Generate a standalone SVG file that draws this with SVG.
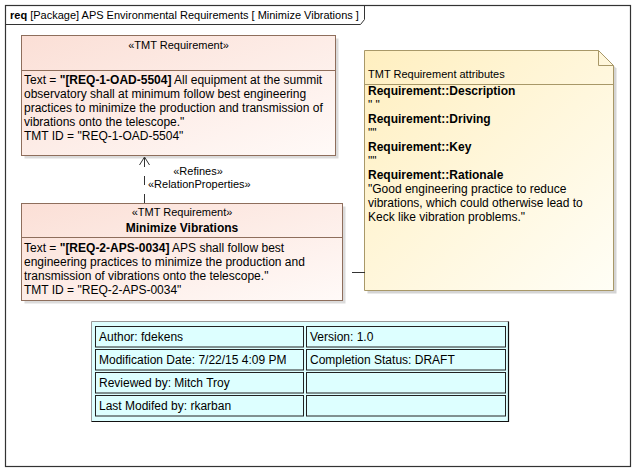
<svg xmlns="http://www.w3.org/2000/svg" width="634" height="473" viewBox="0 0 634 473">
<defs>
<linearGradient id="reqGrad" x1="0" y1="0" x2="1" y2="1">
<stop offset="0" stop-color="#FBDFD6"/>
<stop offset="1" stop-color="#FFFAF8"/>
</linearGradient>
<linearGradient id="noteGrad" x1="0" y1="0" x2="1" y2="1">
<stop offset="0" stop-color="#FFEFC0"/>
<stop offset="1" stop-color="#FFFEF6"/>
</linearGradient>
</defs>
<style>
text { font-family: "Liberation Sans", Arial, sans-serif; fill: #000; }
.t12 { font-size: 12px; }
.t11 { font-size: 11px; }
.b { font-weight: bold; }
.req { fill: url(#reqGrad); stroke: #8E6E5C; stroke-width: 1; }
.shadow { fill: #B8B8B8; }
.sep { stroke: #8E6E5C; stroke-width: 1; }
.note { fill: url(#noteGrad); stroke: #A89868; stroke-width: 1; }
.cell { fill: #DDFFFF; stroke: #222; stroke-width: 1; }
.conn { fill: none; stroke: #333; stroke-width: 1; }
</style>

<!-- Frame -->
<g id="frame">
<rect x="5.5" y="5.5" width="625" height="461" fill="#fff" stroke="#333" stroke-width="1.2"/>
<path d="M5.5 24.5 H360.5 L364.5 19.5 V5.5" fill="none" stroke="#333" stroke-width="1"/>
<text x="10" y="19" class="t11"><tspan class="b">req</tspan> [Package] APS Environmental Requirements [ Minimize Vibrations ]</text>
</g>

<!-- Top requirement -->
<g id="req-oad-5504">
<rect x="24.5" y="38.5" width="314" height="120" class="shadow" opacity="0.5"/>
<rect x="21.5" y="35.5" width="314" height="120" class="req"/>
<line x1="21.5" y1="70.5" x2="335.5" y2="70.5" class="sep"/>
<text x="178.5" y="49" class="t11" text-anchor="middle">«TMT Requirement»</text>
<text x="24" y="84" class="t12">Text = <tspan class="b">"[REQ-1-OAD-5504]</tspan> All equipment at the summit</text>
<text x="24" y="98" class="t12">observatory shall at minimum follow best engineering</text>
<text x="24" y="112" class="t12">practices to minimize the production and transmission of</text>
<text x="24" y="126" class="t12">vibrations onto the telescope."</text>
<text x="24" y="140" class="t12">TMT ID = "REQ-1-OAD-5504"</text>
</g>

<!-- Bottom requirement -->
<g id="req-aps-0034">
<rect x="24.5" y="206.5" width="321" height="97" class="shadow" opacity="0.5"/>
<rect x="21.5" y="203.5" width="321" height="97" class="req"/>
<line x1="21.5" y1="237.5" x2="342.5" y2="237.5" class="sep"/>
<text x="182" y="216" class="t11" text-anchor="middle">«TMT Requirement»</text>
<text x="182" y="232" class="t12 b" text-anchor="middle">Minimize Vibrations</text>
<text x="24" y="252" class="t12">Text = <tspan class="b">"[REQ-2-APS-0034]</tspan> APS shall follow best</text>
<text x="24" y="266" class="t12">engineering practices to minimize the production and</text>
<text x="24" y="280" class="t12">transmission of vibrations onto the telescope."</text>
<text x="24" y="294" class="t12">TMT ID = "REQ-2-APS-0034"</text>
</g>

<!-- Note -->
<g id="note-attributes">
<path d="M367.5 53.5 H601.5 L616.5 68.5 V293.5 H367.5 Z" class="shadow" opacity="0.6"/>
<path d="M364.5 50.5 H598.5 L613.5 65.5 V290.5 H364.5 Z" class="note"/>
<path d="M598.5 50.5 V65.5 H613.5" fill="none" stroke="#A89868" stroke-width="1"/>
<line x1="364.5" y1="84.5" x2="613.5" y2="84.5" stroke="#A89868" stroke-width="1"/>
<text x="368" y="78" class="t11">TMT Requirement attributes</text>
<text x="368" y="94.5" class="t12 b">Requirement::Description</text>
<text x="368" y="108.5" class="t12">" "</text>
<text x="368" y="122.5" class="t12 b">Requirement::Driving</text>
<text x="368" y="136.5" class="t12">""</text>
<text x="368" y="150.5" class="t12 b">Requirement::Key</text>
<text x="368" y="164.5" class="t12">""</text>
<text x="368" y="178.5" class="t12 b">Requirement::Rationale</text>
<text x="368" y="192.5" class="t12">"Good engineering practice to reduce</text>
<text x="368" y="206.5" class="t12">vibrations, which could otherwise lead to</text>
<text x="368" y="220.5" class="t12">Keck like vibration problems."</text>
</g>

<!-- Connectors -->
<g id="connectors">
<line x1="144.5" y1="203" x2="144.5" y2="157" class="conn" stroke-dasharray="9,9"/>
<path d="M139.5 165 L144.5 157 L149.5 165" class="conn"/>
<text x="198" y="175" class="t11" text-anchor="middle">«Refines»</text>
<text x="148" y="188" class="t11">«RelationProperties»</text>
<line x1="352" y1="272.5" x2="365" y2="272.5" class="conn"/>
</g>

<!-- Info table -->
<g id="info-table">
<rect x="91.5" y="321.5" width="417" height="100" fill="#DDFFFF"/>
<path d="M91.5 421.5 V321.5 H508.5" fill="none" stroke="#999" stroke-width="1"/>
<path d="M508.5 321.5 V421.5 H91.5" fill="none" stroke="#111" stroke-width="1.2"/>
<rect x="95.5" y="326.5" width="208" height="20.5" class="cell"/>
<rect x="306.5" y="326.5" width="199" height="20.5" class="cell"/>
<rect x="95.5" y="349.5" width="208" height="20.5" class="cell"/>
<rect x="306.5" y="349.5" width="199" height="20.5" class="cell"/>
<rect x="95.5" y="372.5" width="208" height="20.5" class="cell"/>
<rect x="306.5" y="372.5" width="199" height="20.5" class="cell"/>
<rect x="95.5" y="395.5" width="208" height="20.5" class="cell"/>
<rect x="306.5" y="395.5" width="199" height="20.5" class="cell"/>
<text x="99" y="341" class="t12">Author: fdekens</text>
<text x="310" y="341" class="t12">Version: 1.0</text>
<text x="99" y="364" class="t12">Modification Date: 7/22/15 4:09 PM</text>
<text x="310" y="364" class="t12">Completion Status: DRAFT</text>
<text x="99" y="387" class="t12">Reviewed by: Mitch Troy</text>
<text x="99" y="410" class="t12">Last Modifed by: rkarban</text>
</g>
</svg>
